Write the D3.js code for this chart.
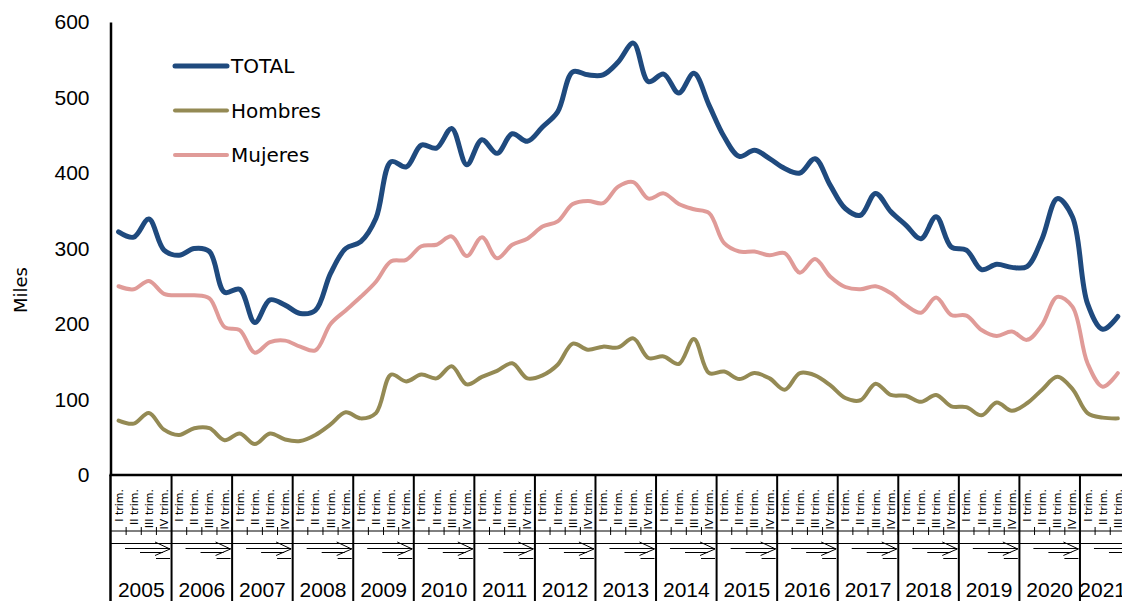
<!DOCTYPE html>
<html>
<head>
<meta charset="utf-8">
<script src="https://cdn.jsdelivr.net/npm/d3@7"></script>
<style>
  body { margin: 0; background: #fff; }
  svg { display: block; }
</style>
</head>
<body>
<svg></svg>
<script>
var width = 1122,
	height = 601;

// chart values (thousands)
var years = ["2005","2006","2007","2008","2009","2010","2011","2012","2013","2014","2015","2016","2017","2018","2019","2020","2021"];
var quarters = ["I trim.","II trim.","III trim.","IV trim."];

var total = [322,315,339,298, 291,300,296,242, 246,202,232,225, 214,218,267,300,
	309,340,415,408, 437,433,459,411, 444,426,452,442, 461,481,534,530,
	530,547,572,521, 531,506,532,490, 448,422,430,419, 406,400,419,384,
	353,344,373,349, 331,313,342,302, 298,272,279,275, 276,313,366,342,
	227,193,210];
var hombres = [72,68,82,60, 53,62,62,46, 55,41,55,47, 45,53,67,83,
	75,82,133,124, 133,128,144,120, 130,138,148,128, 132,146,174,166,
	170,169,181,155, 157,147,180,135, 137,127,135,128, 113,135,132,119,
	102,99,121,106, 105,97,106,91, 90,79,96,85, 95,113,130,114,
	82,76,75];
var mujeres = [250,246,257,240, 238,238,234,196, 192,162,176,178, 170,165,200,218,
	236,256,283,285, 303,305,316,290, 315,287,305,313, 329,336,359,363,
	360,382,388,366, 373,359,352,347, 307,296,296,291, 294,268,286,263,
	249,246,250,241, 225,215,235,212, 211,192,184,190, 179,199,236,223,
	148,117,135];
var yTicks = [0,100,200,300,400,500,600];

var series = [
	{name: "TOTAL", values: total, color: "#1f4a7e", w: 5},
	{name: "Hombres", values: hombres, color: "#948a54", w: 4},
	{name: "Mujeres", values: mujeres, color: "#e09b98", w: 4}
];

// one category per quarter
var cats = [];
years.forEach(function(yr) {
	quarters.forEach(function(q) {
		if (cats.length < total.length) cats.push({year: yr, q: q, i: cats.length});
	});
});

var plotLeft = 111, plotTop = 22, plotBottom = 475, step = 15.14;

var svg = d3.select("svg")
	.attr("width", width)
	.attr("height", height);

var x = d3.scaleBand()
	.domain(d3.range(cats.length))
	.range([plotLeft, plotLeft + step * cats.length])
	.padding(0);
var y = d3.scaleLinear()
	.domain([0, 600])
	.range([plotBottom, plotTop]);

var cx = function(i) { return x(i) + x.bandwidth() / 2; };

// y axis
var yAxis = svg.append("g")
	.attr("transform", "translate(" + (plotLeft - 0.5) + ",0)")
	.call(d3.axisLeft(y).tickValues(yTicks).tickSize(0).tickPadding(21));
yAxis.select(".domain").attr("stroke", "#000").attr("stroke-width", 2.5);
yAxis.selectAll("text")
	.style("font-family", "Liberation Sans, Arial, sans-serif")
	.style("font-size", "21px")
	.attr("fill", "#000");

svg.append("text")
	.attr("transform", "translate(27,290) rotate(-90)")
	.attr("text-anchor", "middle")
	.style("font-family", "DejaVu Sans, sans-serif")
	.style("font-size", "18px")
	.text("Miles");

// category axis: table of quarter / arrow / year cells
var axisG = svg.append("g");
var xEnd = plotLeft + step * cats.length;

axisG.append("clipPath").attr("id", "qclip")
	.append("rect").attr("x", plotLeft).attr("y", 478).attr("width", xEnd - plotLeft).attr("height", 51);

axisG.append("g").attr("clip-path", "url(#qclip)")
	.selectAll("text")
	.data(cats)
	.enter()
	.append("text")
	.attr("transform", function(d) { return "translate(" + (cx(d.i) + 4) + ",489) rotate(-90)"; })
	.attr("text-anchor", "end")
	.style("font-family", "DejaVu Sans, sans-serif")
	.style("font-size", "11px")
	.text(function(d) { return d.q; });

axisG.append("line")
	.attr("x1", plotLeft).attr("x2", width).attr("y1", 531).attr("y2", 531)
	.attr("stroke", "#000").attr("stroke-width", 1);
axisG.append("line")
	.attr("x1", plotLeft).attr("x2", width).attr("y1", 543.5).attr("y2", 543.5)
	.attr("stroke", "#000").attr("stroke-width", 1);

axisG.selectAll(".qtick")
	.data(cats)
	.enter()
	.append("line")
	.attr("class", "qtick")
	.attr("x1", function(d) { return x(d.i) + x.bandwidth(); })
	.attr("x2", function(d) { return x(d.i) + x.bandwidth(); })
	.attr("y1", 527).attr("y2", 535)
	.attr("stroke", "#000").attr("stroke-width", 1);

var yearCells = years.map(function(yr) {
	var list = cats.filter(function(c) { return c.year === yr; });
	return {year: yr, x0: x(list[0].i), x1: x(list[list.length - 1].i) + x.bandwidth()};
});

var cell = axisG.selectAll(".cell")
	.data(yearCells)
	.enter()
	.append("g")
	.attr("class", "cell");

cell.append("path")
	.attr("d", function(d) {
		var a = d.x0;
		return "M" + (a + 14) + ",548.5H" + (a + 59) +
			"M" + (a + 29) + ",552.5H" + (a + 52) +
			"M" + (a + 44) + ",542L" + (a + 59) + ",549L" + (a + 44) + ",555.5" +
			"M" + (a + 45) + ",558.5H" + (a + 59);
	})
	.attr("fill", "none")
	.attr("stroke", "#000")
	.attr("stroke-width", 1);

cell.append("line")
	.attr("x1", function(d) { return d.x1; })
	.attr("x2", function(d) { return d.x1; })
	.attr("y1", plotBottom).attr("y2", height)
	.attr("stroke", "#000").attr("stroke-width", 2);

cell.append("text")
	.attr("x", function(d) { return (d.x0 + d.x1) / 2; })
	.attr("y", 597)
	.attr("text-anchor", "middle")
	.style("font-family", "Liberation Sans, Arial, sans-serif")
	.style("font-size", "21px")
	.text(function(d) { return d.year; });

axisG.append("line")
	.attr("x1", plotLeft - 0.5).attr("x2", plotLeft - 0.5)
	.attr("y1", plotBottom).attr("y2", height)
	.attr("stroke", "#000").attr("stroke-width", 2.5);
axisG.append("line")
	.attr("x1", plotLeft - 1.5).attr("x2", width)
	.attr("y1", plotBottom).attr("y2", plotBottom)
	.attr("stroke", "#000").attr("stroke-width", 2.5);

// lines
var line = d3.line()
	.x(function(d, i) { return cx(i); })
	.y(function(d) { return y(d); })
	.curve(d3.curveCatmullRom);

svg.append("g").selectAll("path")
	.data(series)
	.enter()
	.append("path")
	.attr("d", function(d) { return line(d.values); })
	.attr("fill", "none")
	.attr("stroke", function(d) { return d.color; })
	.attr("stroke-width", function(d) { return d.w; })
	.attr("stroke-linejoin", "round")
	.attr("stroke-linecap", "round");

// legend
var legend = svg.append("g").selectAll("g")
	.data(series)
	.enter()
	.append("g")
	.attr("transform", function(d, i) { return "translate(175," + (66 + i * 44.5) + ")"; });
legend.append("line")
	.attr("x1", 0).attr("x2", 52)
	.attr("stroke", function(d) { return d.color; })
	.attr("stroke-width", function(d) { return d.w; })
	.attr("stroke-linecap", "round");
legend.append("text")
	.attr("x", 56)
	.attr("dy", "0.36em")
	.style("font-family", "DejaVu Sans, sans-serif")
	.style("font-size", "20px")
	.text(function(d) { return d.name; });
</script>
</body>
</html>
